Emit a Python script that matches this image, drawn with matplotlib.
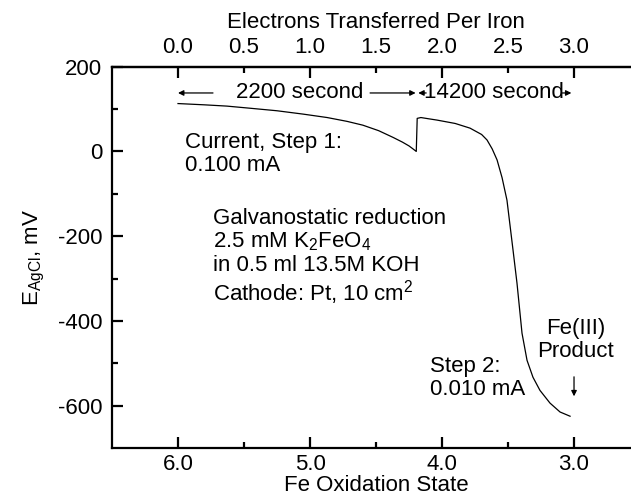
import matplotlib
matplotlib.use('Agg')
import matplotlib.pyplot as plt

# ---- data ----
fe_state = [6.00, 5.80, 5.63, 5.455, 5.25, 5.05, 4.87, 4.72, 4.60, 4.48, 4.37, 4.30, 4.25, 4.22, 4.195,
            4.188, 4.16, 4.10, 4.038, 3.90, 3.788, 3.70, 3.659, 3.62, 3.583, 3.545, 3.508,
            3.462, 3.432, 3.394, 3.356, 3.311, 3.258, 3.182, 3.106, 3.03]
potential_mv = [113, 110, 107, 102, 96, 88, 80, 71, 62, 49, 33, 22, 13, 6, 0,
                78, 80, 77, 74, 66, 55, 40, 27, 6, -20, -62, -115,
                -233, -311, -429, -493, -533, -564, -594, -615, -625]

bottom_ticks = [6.0, 5.0, 4.0, 3.0]
bottom_minor = [5.5, 4.5, 3.5]
top_major = [0.0, 1.0, 2.0, 3.0]
top_minor = [0.5, 1.5, 2.5]
y_major = [200, 0, -200, -400, -600]
y_minor = [100, -100, -300, -500]

plt.rcParams['font.family'] = ['Liberation Sans', 'DejaVu Sans']
plt.rcParams['mathtext.fontset'] = 'custom'
plt.rcParams['mathtext.rm'] = 'Liberation Sans'
plt.rcParams['mathtext.it'] = 'Liberation Sans:italic'
plt.rcParams['axes.unicode_minus'] = False
plt.rcParams['font.size'] = 16

fig = plt.figure(figsize=(6.31, 5.0), dpi=100)
ax = fig.add_axes([0.1775, 0.104, 0.8368, 0.7626])

ax.plot(fe_state, potential_mv, color='black', lw=0.9)

ax.set_xlim(6.5, 2.5)
ax.set_ylim(-700, 200)

ax.set_xticks(bottom_ticks)
ax.set_xticklabels([f'{t:.1f}' for t in bottom_ticks])
ax.set_xticks(bottom_minor, minor=True)
ax.set_yticks(y_major)
ax.set_yticks(y_minor, minor=True)

for s in ['left', 'bottom', 'top']:
    ax.spines[s].set_linewidth(1.6)
ax.spines['right'].set_visible(False)
ax.tick_params(which='both', direction='in', width=1.6, top=False, right=False)
ax.tick_params(which='major', length=8)
ax.tick_params(which='minor', length=4.5)
ax.tick_params(axis='x', pad=4)
ax.tick_params(axis='y', pad=7)

ax.set_xlabel('Fe Oxidation State', labelpad=0)
ax.set_ylabel(r'E$_{\rm AgCl}$, mV', labelpad=8)

sec = ax.secondary_xaxis('top', functions=(lambda x: 6 - x, lambda e: 6 - e))
sec.set_xticks(top_major, labels=[f'{t:.1f}' for t in top_major])
sec.set_xticks(top_minor, labels=[f'{t:.1f}' for t in top_minor], minor=True)
sec.tick_params(which='both', direction='in', width=1.6, pad=6)
sec.tick_params(which='major', length=8)
sec.tick_params(which='minor', length=4.5)
sec.spines['top'].set_linewidth(1.6)
sec.set_xlabel('Electrons Transferred Per Iron', labelpad=7)

# ---- annotations ----
ya = 138
aprops = dict(arrowstyle='-|>', color='black', lw=0.9, mutation_scale=8, shrinkA=0, shrinkB=0)
ax.text(5.08, ya, '2200 second', ha='center', va='center')
ax.annotate('', xy=(6.0, ya), xytext=(5.735, ya), arrowprops=aprops)
ax.annotate('', xy=(4.20, ya), xytext=(4.545, ya), arrowprops=aprops)
ax.text(3.61, ya, '14200 second', ha='center', va='center')
ax.annotate('', xy=(4.18, ya), xytext=(4.12, ya), arrowprops=aprops)
ax.annotate('', xy=(3.02, ya), xytext=(3.09, ya), arrowprops=aprops)

ax.text(5.95, 45, 'Current, Step 1:\n0.100 mA', ha='left', va='top', linespacing=1.1)
ax.text(5.735, -133, 'Galvanostatic reduction\n2.5 mM K$_2$FeO$_4$\nin 0.5 ml 13.5M KOH\nCathode: Pt, 10 cm$^2$',
        ha='left', va='top', linespacing=1.1)
ax.text(4.09, -483, 'Step 2:\n0.010 mA', ha='left', va='top', linespacing=1.1)
ax.text(2.99, -393, 'Fe(III)\nProduct', ha='center', va='top', linespacing=1.1)
ax.annotate('', xy=(3.0, -578), xytext=(3.0, -532),
            arrowprops=dict(arrowstyle='-|>', color='black', lw=0.9, mutation_scale=8, shrinkA=0, shrinkB=0))

fig.savefig('out.png', dpi=100)
